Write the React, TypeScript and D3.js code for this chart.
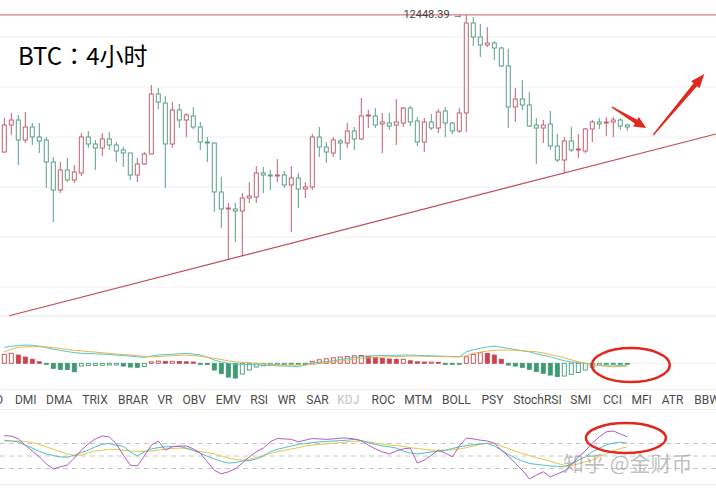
import * as d3 from 'd3';
import * as React from 'react';

const W = 716;
const H = 488;

// 4h candles
const open = [
  11900, 12008, 12028, 11948, 12000, 11960, 11948, 11860, 11748, 11828,
  11788, 11816, 11960, 11932, 11916, 11952, 11928, 11908, 11896, 11808,
  11852, 11892, 12132, 12096, 11932, 12068, 12028, 12044, 12000, 11940,
  11936, 11740, 11672, 11672, 11664, 11716, 11720, 11816, 11808, 11804,
  11808, 11768, 11796, 11752, 11760, 11960, 11920, 11896, 11944, 11936,
  11984, 11952, 12044, 12044, 12012, 12016, 12008, 12016, 12076, 12024,
  11940, 12020, 11996, 12064, 12016, 11984, 12056, 12416, 12360, 12328,
  12336, 12316, 12244, 12080, 12112, 12088, 12008, 11996, 12012, 11924,
  11868, 11944, 11908, 11904, 11992, 12020, 12016, 12020, 12028, 12008,
];
const high = [
  12036, 12056, 12048, 12060, 12016, 12016, 11960, 11880, 11860, 11876,
  11848, 11976, 11984, 11948, 11976, 11980, 11940, 11920, 11896, 11876,
  11900, 12168, 12156, 12124, 12100, 12092, 12056, 12080, 12020, 11960,
  11940, 11800, 11696, 11696, 11736, 11780, 11844, 11840, 11828, 11872,
  11824, 11844, 11816, 11780, 11972, 12000, 11940, 11960, 11952, 12016,
  12000, 12116, 12068, 12076, 12056, 12056, 12112, 12080, 12084, 12040,
  12036, 12052, 12072, 12080, 12020, 12076, 12448.39, 12440, 12412, 12400,
  12344, 12320, 12312, 12156, 12188, 12140, 12036, 12028, 12064, 11972,
  11960, 12000, 11972, 11996, 12028, 12036, 12040, 12040, 12036, 12012,
];
const low = [
  11896, 11968, 11848, 11936, 11928, 11896, 11756, 11620, 11736, 11780,
  11776, 11804, 11916, 11828, 11884, 11908, 11860, 11840, 11788, 11780,
  11848, 11892, 12072, 11756, 11916, 11996, 11960, 11992, 11908, 11860,
  11660, 11596, 11468, 11540, 11484, 11696, 11696, 11736, 11748, 11780,
  11756, 11580, 11676, 11716, 11748, 11880, 11856, 11880, 11868, 11916,
  11908, 11948, 11996, 11996, 11896, 11988, 11928, 12000, 12004, 11924,
  11900, 11988, 11976, 11960, 11972, 11976, 11980, 12324, 12280, 12320,
  12268, 12240, 11996, 12020, 12068, 12000, 11852, 11936, 11908, 11860,
  11816, 11900, 11876, 11896, 11940, 11992, 11964, 11960, 11988, 11984,
];
const close = [
  12008, 12028, 11948, 12000, 11960, 11944, 11860, 11748, 11828, 11788,
  11820, 11960, 11932, 11916, 11952, 11928, 11904, 11896, 11808, 11852,
  11892, 12132, 12100, 11932, 12068, 12028, 12048, 12000, 11940, 11936,
  11740, 11672, 11676, 11664, 11716, 11724, 11816, 11808, 11804, 11808,
  11768, 11796, 11752, 11760, 11960, 11920, 11900, 11948, 11936, 11984,
  11952, 12044, 12048, 12008, 12020, 12004, 12020, 12076, 12020, 11940,
  12020, 11996, 12060, 12016, 11984, 12056, 12416, 12360, 12328, 12336,
  12316, 12244, 12080, 12112, 12088, 12004, 11996, 12008, 11924, 11868,
  11944, 11908, 11912, 11992, 12020, 12012, 12020, 12028, 12004, 12000,
];

const priceGrid = [12360, 12160, 11960, 11760, 11560, 11360];
const topPrice = 12448.39;

// MACD panel
const hist = [
  36, 40, 33, 25, 16, 6, -3, -20, -24, -25,
  -34, -11, -9, -8.5, -8, -7, -7, -11, -15, -16,
  -13, 6, 9, 8, 8, 7, 6, 5, -3, -5,
  -27, -41, -55, -59, -43, -27, -15, -10, -8, -6,
  -5, -4, -3, -2, 8, 14, 18, 22, 25, 27,
  30, 31, 28, 24, 20, 17, 15, 16, 10, 6,
  5, 5, 4, -2, -3, -3, 26, 36, 42, 40,
  33, 16, -7, -11, -16, -24, -33, -40, -47, -53,
  -51, -44, -37, -27, -16, -7, -3, -2, -1.5, -1,
];
const dif = [
  64, 68, 71, 73, 72, 69, 63, 56, 52, 47,
  43, 40, 39, 38, 37, 35, 33, 31, 29, 26,
  24, 29, 33, 35, 36, 38, 40, 37, 33, 24,
  13, 6, 0, -3, -4, -5, -6, -7, -8, -10,
  -11, -12, -14, -6, 0, 4, 7, 10, 15, 19,
  23, 27, 29, 30, 31, 32, 32, 33, 33, 32,
  31, 30, 29, 28, 27, 26, 46, 54, 60, 65,
  69, 64, 60, 55, 50, 46, 38, 32, 26, 18,
  10, 6, 3, 0, -7, -9, -10, -11, -9, -7,
];
const dea = [
  46, 56, 64, 66, 66, 66, 66, 62, 59, 56,
  52, 50, 47, 45, 42, 40, 37, 35, 33, 30,
  28, 26, 27, 29, 30, 32, 33, 31, 28, 24,
  20, 15, 10, 6, 4, 2, 0, -2, -4, -6,
  -7, -7, -7, -7, -4, -1, 2, 6, 9, 13,
  16, 20, 22, 24, 25, 26, 27, 28, 29, 29,
  28, 28, 27, 27, 26, 26, 30, 40, 45, 49,
  52, 53, 53, 52, 50, 48, 46, 41, 35, 29,
  22, 14, 6, 0, -7, -9, -11, -14, -13, -11,
];

// KDJ panel
const kLine = [
  88, 86, 84, 76, 69, 61, 55, 51, 48, 47,
  52, 58, 64, 72, 78, 80, 76, 73, 60, 50,
  60, 67, 70, 72, 73, 73, 69, 63, 57, 49,
  43, 37, 33, 34, 38, 39, 43, 50, 60, 66,
  70, 74, 78, 80, 82, 84, 85, 86, 87, 88,
  90, 87, 82, 78, 74, 72, 69, 62, 57, 55,
  57, 60, 61, 64, 68, 72, 75, 77, 79, 80,
  74, 64, 54, 45, 38, 32, 30, 28, 26, 25,
  24, 31, 40, 48, 60, 69, 77, 81, 83, 81,
];
const dLine = [
  86, 86, 86, 85, 82, 78, 72, 66, 60, 55,
  51, 52, 57, 62, 64, 66, 66, 64, 62, 61,
  61, 62, 64, 67, 68, 69, 68, 64, 61, 58,
  55, 50, 45, 42, 40, 42, 46, 51, 56, 60,
  63, 67, 70, 74, 76, 78, 79, 81, 82, 84,
  85, 86, 84, 81, 79, 76, 75, 73, 70, 68,
  66, 64, 64, 64, 65, 67, 70, 74, 78, 81,
  80, 74, 68, 62, 56, 51, 46, 42, 37, 32,
  28, 27, 31, 36, 40, 48, 55, 62, 68, 72,
];
const jLine = [
  99, 98, 91, 76, 62, 48, 31, 19, 24, 28,
  45, 64, 79, 91, 98, 96, 79, 52, 28, 26,
  50, 76, 86, 64, 72, 74, 74, 67, 57, 36,
  16, 7, 12, 19, 33, 48, 60, 69, 84, 92,
  91, 90, 84, 88, 92, 91, 90, 91, 93, 93,
  91, 87, 76, 67, 60, 55, 62, 67, 69, 33,
  40, 52, 64, 57, 48, 74, 93, 91, 88, 86,
  81, 64, 50, 33, 16, -5, 4, 12, 0, 7,
  14, 28, 48, 62, 81, 96, 108, 110, 103, 96,
];
const kdjGrid = [80, 50, 20];

const tabs = [
  'MACD', 'DMI', 'DMA', 'TRIX', 'BRAR', 'VR', 'OBV', 'EMV', 'RSI', 'WR', 'SAR',
  'KDJ', 'ROC', 'MTM', 'BOLL', 'PSY', 'StochRSI', 'SMI', 'CCI', 'MFI', 'ATR', 'BBW',
];
const tabCenters = [
  -14, 25.8, 59.2, 95, 133, 165, 194.2, 228.3, 259.2, 286.7, 317.5,
  348.3, 383.3, 418.3, 456.3, 492.5, 537.5, 580.8, 612.5, 641.7, 672.5, 707,
];

// hand-drawn annotations, in [candle index, price]
const trend = [[0.71, 11245], [101.67, 11972]];
const arrows = [
  { from: [86.8, 12080], to: [91.7, 11996], head: 12 },
  { from: [92.7, 11968], to: [100, 12212], head: 14 },
];

const RED = '#c0626c';
const GREEN = '#5b9f83';
const HRED = '#c9444e';
const HGREEN = '#3f9a72';
const MARK = '#e0281e';

function arrowPoints(x1: number, y1: number, x2: number, y2: number, hl: number) {
  const len = Math.hypot(x2 - x1, y2 - y1);
  const ux = (x2 - x1) / len;
  const uy = (y2 - y1) / len;
  const nx = -uy;
  const ny = ux;
  const bx = x2 - ux * hl;
  const by = y2 - uy * hl;
  const w0 = 0.6, w1 = 2.2, hw = 5.5;
  const pts = [
    [x1 + nx * w0, y1 + ny * w0],
    [bx + nx * w1, by + ny * w1],
    [bx + nx * hw, by + ny * hw],
    [x2, y2],
    [bx - nx * hw, by - ny * hw],
    [bx - nx * w1, by - ny * w1],
    [x1 - nx * w0, y1 - ny * w0],
  ];
  return pts.map(p => p.join(',')).join(' ');
}

export default function App() {
  const n = close.length;
  const x = d3.scaleLinear().domain([0, n - 1]).range([4.3, 627.3]);
  const yP = d3.scaleLinear().domain([11244, 12508]).range([316, 0]);
  const yM = d3.scaleLinear().domain([0, 40]).range([363.3, 353.3]);
  const yK = d3.scaleLinear().domain([20, 80]).range([468.5, 443.5]);

  const macdLine = d3.line<number>().x((_, i) => x(i)).y(d => yM(d));
  const kdjLine = d3.line<number>().x((_, i) => x(i)).y(d => yK(d));

  const bw = 4;
  const font = 'Roboto, "Noto Sans", Arial, sans-serif';

  return (
    <svg
      width={W}
      height={H}
      viewBox={`0 0 ${W} ${H}`}
      style={{ position: 'fixed', left: 0, top: 0, background: '#fff' }}
    >
      <rect width={W} height={H} fill="#fff" />

      {/* price grid */}
      {priceGrid.map(p => (
        <line key={p} x1={0} x2={W} y1={yP(p)} y2={yP(p)} stroke="#f0f0f0" />
      ))}
      <line x1={0} x2={W} y1={316} y2={316} stroke="#e6e6e6" />

      {/* candles */}
      {close.map((c, i) => {
        const up = c >= open[i];
        const col = up ? RED : GREEN;
        const top = yP(Math.max(open[i], c));
        const bot = yP(Math.min(open[i], c));
        return (
          <g key={i}>
            <line x1={x(i)} x2={x(i)} y1={yP(high[i])} y2={yP(low[i])} stroke={col} />
            <rect
              x={x(i) - bw / 2}
              y={top}
              width={bw}
              height={Math.max(bot - top, 1)}
              fill="#fff"
              stroke={col}
            />
          </g>
        );
      })}

      {/* highest price line */}
      <line x1={0} x2={W} y1={yP(topPrice)} y2={yP(topPrice)} stroke="#cf5a64" strokeWidth={1} />
      <text
        x={x(66) - 3}
        y={yP(topPrice) + 3.5}
        textAnchor="end"
        fontFamily={font}
        fontSize={11}
        fill="#444"
      >
        {`${topPrice.toFixed(2)} →`}
      </text>

      {/* trend line */}
      <line
        x1={x(trend[0][0])}
        y1={yP(trend[0][1])}
        x2={x(trend[1][0])}
        y2={yP(trend[1][1])}
        stroke="#c24a55"
        strokeWidth={1.2}
      />

      {arrows.map((a, i) => (
        <polygon
          key={i}
          points={arrowPoints(x(a.from[0]), yP(a.from[1]), x(a.to[0]), yP(a.to[1]), a.head)}
          fill={MARK}
        />
      ))}

      <text x={18} y={65} fontFamily='"Noto Sans CJK TC", "Noto Sans CJK SC", sans-serif' fontSize={24} fill="#000">
        BTC：4小时
      </text>

      {/* MACD */}
      <line x1={560} x2={W} y1={yM(0)} y2={yM(0)} stroke="#eeeeee" />
      {hist.map((v, i) => {
        const pos = v >= 0;
        const col = pos ? HRED : HGREEN;
        const filled = i > 0 && v < hist[i - 1];
        const y0 = yM(Math.max(v, 0));
        const y1 = yM(Math.min(v, 0));
        return (
          <rect
            key={i}
            x={x(i) - 2}
            y={y0}
            width={4}
            height={Math.max(y1 - y0, 1)}
            fill={filled ? col : '#fff'}
            stroke={col}
            strokeWidth={0.9}
          />
        );
      })}
      <path d={macdLine(dif) || ''} fill="none" stroke="#55c4c8" strokeWidth={1} />
      <path d={macdLine(dea) || ''} fill="none" stroke="#e8b44a" strokeWidth={1} />

      <ellipse cx={x(89.5)} cy={yM(-7)} rx={39} ry={17} fill="none" stroke={MARK} strokeWidth={2.5} />

      {/* indicator tabs */}
      <line x1={0} x2={W} y1={389.5} y2={389.5} stroke="#ececec" />
      <line x1={0} x2={W} y1={409.5} y2={409.5} stroke="#ececec" />
      {tabs.map((t, i) => (
        <text
          key={t}
          x={tabCenters[i]}
          y={404}
          textAnchor="middle"
          fontFamily={font}
          fontSize={12}
          fill={t === 'KDJ' ? '#c4c4c4' : '#4a4a4a'}
        >
          {t}
        </text>
      ))}

      {/* KDJ */}
      {kdjGrid.map(g => (
        <line
          key={g}
          x1={0}
          x2={W}
          y1={yK(g)}
          y2={yK(g)}
          stroke="#c8c8c8"
          strokeDasharray="5,4"
        />
      ))}
      <line x1={0} x2={W} y1={484.5} y2={484.5} stroke="#ececec" />
      <path d={kdjLine(dLine) || ''} fill="none" stroke="#e8c44c" strokeWidth={1} />
      <path d={kdjLine(kLine) || ''} fill="none" stroke="#4fc0c6" strokeWidth={1} />
      <path d={kdjLine(jLine) || ''} fill="none" stroke="#b05cc4" strokeWidth={1} />

      <ellipse cx={x(88.8)} cy={yK(93)} rx={40} ry={15} fill="none" stroke={MARK} strokeWidth={2.5} />

      <text
        x={563}
        y={471}
        fontFamily='"Noto Sans CJK SC", sans-serif'
        fontSize={21}
        fill="#8a8a8a"
        fillOpacity={0.55}
      >
        知乎 @金财币
      </text>
    </svg>
  );
}
